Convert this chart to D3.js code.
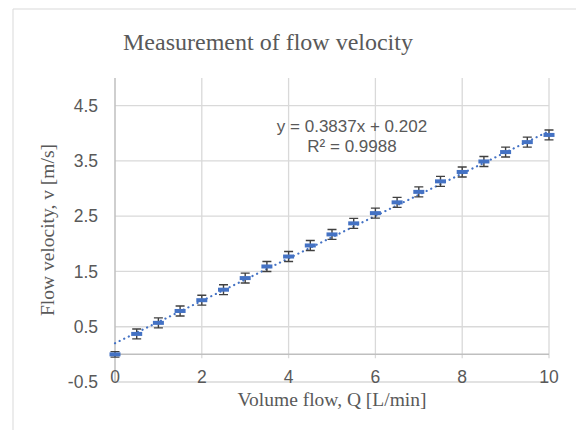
<!DOCTYPE html>
<html>
<head>
<meta charset="utf-8">
<script src="https://cdn.jsdelivr.net/npm/d3@7"></script>
<style>
  body { margin: 0; background: #fff; }
  svg { display: block; }
</style>
</head>
<body>
<svg width="576" height="430"></svg>
<script>
// measured data
var flow = [0, 0.5, 1, 1.5, 2, 2.5, 3, 3.5, 4, 4.5, 5, 5.5, 6, 6.5, 7, 7.5, 8, 8.5, 9, 9.5, 10];
var velocity = [0.0, 0.37, 0.57, 0.785, 0.98, 1.17, 1.38, 1.59, 1.77, 1.97, 2.17, 2.37, 2.555, 2.75, 2.94, 3.13, 3.30, 3.49, 3.66, 3.84, 3.97];
var errors = [0.05, 0.09, 0.09, 0.09, 0.09, 0.09, 0.09, 0.09, 0.09, 0.09, 0.09, 0.09, 0.09, 0.09, 0.09, 0.09, 0.09, 0.09, 0.09, 0.09, 0.09];
var xTicks = [0, 2, 4, 6, 8, 10];
var yTicks = [-0.5, 0.5, 1.5, 2.5, 3.5, 4.5];
var trend = { slope: 0.3837, intercept: 0.202, r2: 0.9988 };

var svg = d3.select("svg");
var grid = "#d9d9d9", axisCol = "#bfbfbf", textCol = "#595959", blue = "#4472c4";

// outer frame (chart area is cropped on right/bottom)
svg.append("path").attr("d", "M13,430V9H576").attr("fill", "none").attr("stroke", grid).attr("stroke-width", 1);

var x = d3.scaleLinear().domain([0, 10]).range([115, 549]);
var y = d3.scaleLinear().domain([-0.5, 5]).range([382, 78]);

// gridlines
svg.append("g").selectAll("line").data(yTicks).enter().append("line")
    .attr("x1", x(0)).attr("x2", x(10))
    .attr("y1", function(d) { return y(d); }).attr("y2", function(d) { return y(d); })
    .attr("stroke", grid).attr("stroke-width", 1.3);
svg.append("g").selectAll("line").data(xTicks.slice(1)).enter().append("line")
    .attr("x1", function(d) { return x(d); }).attr("x2", function(d) { return x(d); })
    .attr("y1", y(5)).attr("y2", y(0) + 4)
    .attr("stroke", grid).attr("stroke-width", 1.3);

// axis lines
svg.append("line").attr("x1", x(0)).attr("x2", x(10)).attr("y1", y(0)).attr("y2", y(0))
    .attr("stroke", axisCol).attr("stroke-width", 1.5);
svg.append("line").attr("x1", x(0)).attr("x2", x(0)).attr("y1", y(5)).attr("y2", y(-0.5))
    .attr("stroke", axisCol).attr("stroke-width", 1.5);

// tick labels
svg.append("g").selectAll("text").data(yTicks).enter().append("text")
    .attr("x", 98).attr("y", function(d) { return y(d); }).attr("dy", "0.36em")
    .attr("text-anchor", "end")
    .attr("font-family", "Liberation Sans, Arial, sans-serif").attr("font-size", 17.5)
    .attr("fill", textCol)
    .text(function(d) { return d.toFixed(1); });
svg.append("g").selectAll("text").data(xTicks).enter().append("text")
    .attr("x", function(d) { return x(d); }).attr("y", 383)
    .attr("text-anchor", "middle")
    .attr("font-family", "Liberation Sans, Arial, sans-serif").attr("font-size", 17.5)
    .attr("fill", textCol)
    .text(function(d) { return d; });

// titles
svg.append("text").attr("x", 268).attr("y", 50).attr("text-anchor", "middle")
    .attr("font-family", "Liberation Serif, Times New Roman, serif").attr("font-size", 24)
    .attr("fill", textCol).text("Measurement of flow velocity");
svg.append("text").attr("x", 332).attr("y", 406).attr("text-anchor", "middle")
    .attr("font-family", "Liberation Serif, Times New Roman, serif").attr("font-size", 19.5)
    .attr("fill", textCol).text("Volume flow, Q [L/min]");
svg.append("text").attr("transform", "translate(54,230) rotate(-90)").attr("text-anchor", "middle")
    .attr("font-family", "Liberation Serif, Times New Roman, serif").attr("font-size", 19.5)
    .attr("fill", textCol).text("Flow velocity, v [m/s]");

// trendline
svg.append("line")
    .attr("x1", x(0)).attr("y1", y(trend.intercept))
    .attr("x2", x(10)).attr("y2", y(trend.intercept + trend.slope * 10))
    .attr("stroke", blue).attr("stroke-width", 2.2)
    .attr("stroke-dasharray", "0.1 5").attr("stroke-linecap", "round");

var pts = flow.map(function(f, i) { return { q: f, v: velocity[i], e: errors[i] }; });

// error bars
var eb = svg.append("g").attr("stroke", "#404040").attr("stroke-width", 1.4).attr("fill", "none");
eb.selectAll("path").data(pts).enter().append("path")
    .attr("d", function(d) {
        var cx = x(d.q), t = y(d.v + d.e), b = y(d.v - d.e);
        return "M" + (cx - 4.5) + "," + t + "H" + (cx + 4.5) +
               "M" + cx + "," + t + "V" + b +
               "M" + (cx - 4.5) + "," + b + "H" + (cx + 4.5);
    });

// markers (dash)
svg.append("g").selectAll("rect").data(pts).enter().append("rect")
    .attr("x", function(d) { return x(d.q) - 5.5; })
    .attr("y", function(d) { return y(d.v) - 2; })
    .attr("width", 11).attr("height", 4)
    .attr("fill", blue);

// trendline label
var lab = svg.append("text").attr("text-anchor", "middle")
    .attr("font-family", "Liberation Sans, Arial, sans-serif").attr("font-size", 17)
    .attr("fill", textCol);
lab.append("tspan").attr("x", 352).attr("y", 132)
    .text("y = " + trend.slope + "x + " + trend.intercept);
lab.append("tspan").attr("x", 352).attr("y", 152)
    .text("R² = " + trend.r2);
</script>
</body>
</html>
